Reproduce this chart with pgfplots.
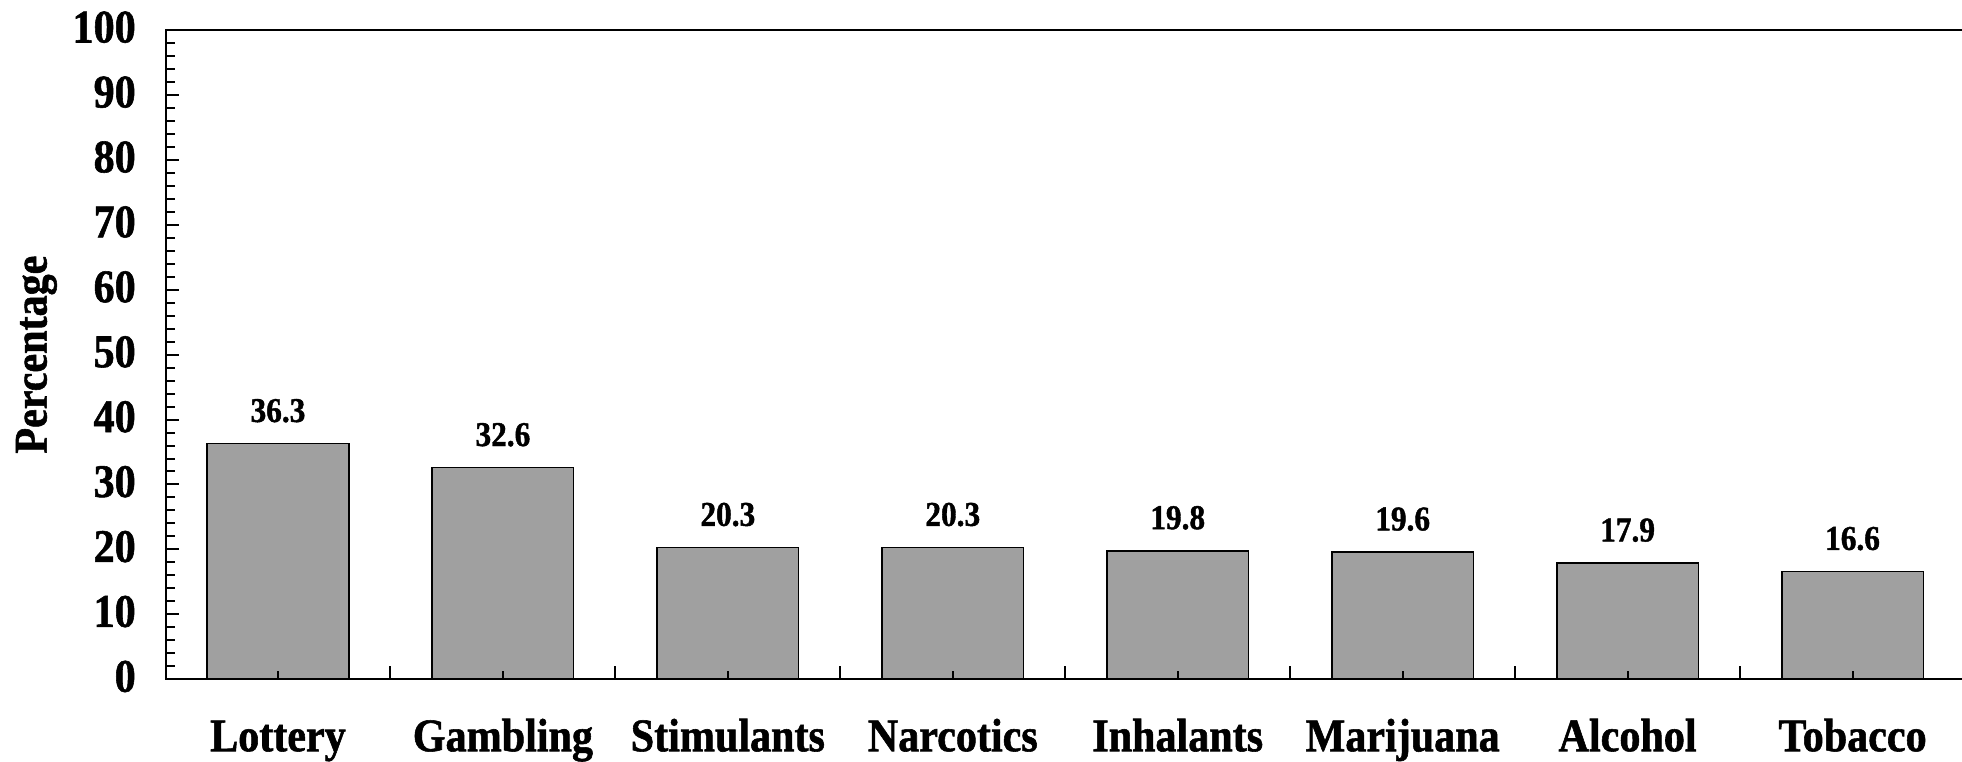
\documentclass[border=0pt]{standalone}
\usepackage{fontspec}
\setmainfont{Liberation Serif}[FakeStretch=0.9, BoldFeatures={FakeBold=1.2}]
\usepackage{pgfplots}
\pgfplotsset{compat=1.18}

\definecolor{barfill}{RGB}{160,160,160}

\begin{document}
\begin{tikzpicture}
\begin{axis}[
    scale only axis,
    width=450.1pt,
    height=162.4pt,
    xmin=0.5, xmax=8.5,
    ymin=0, ymax=100,
    ybar,
    bar width=35.4pt,
    axis on top,
    axis line style={line width=0.5pt},
    every tick/.style={black, line width=0.5pt},
    tick align=inside,
    xtick pos=left,
    ytick pos=left,
    major tick length=3.25pt,
    minor tick length=2.25pt,
    % boundaries between categories: longer ticks, no labels
    xtick={1.5,2.5,...,7.5},
    xticklabels={},
    % category centres: short ticks with the names
    extra x ticks={1,...,8},
    extra x tick labels={Lottery, Gambling, Stimulants, Narcotics, Inhalants, Marijuana, Alcohol, Tobacco},
    extra x tick style={major tick length=2pt},
    ytick={0,10,...,100},
    minor y tick num=4,
    yticklabel style={inner sep=0pt, anchor=east, xshift=-7.25pt, yshift=0.7pt},
    xticklabel style={inner sep=0pt, anchor=base, yshift=-18pt},
    ticklabel style={font=\fontsize{11.7}{12}\selectfont\bfseries},
    /pgf/number format/assume math mode=true,
    ylabel={Percentage},
    ylabel style={at={(axis description cs:-0.0661,0.5)}, anchor=base, inner sep=0pt,
                  font=\fontsize{11.7}{12}\selectfont\bfseries},
    nodes near coords,
    nodes near coords style={anchor=base, inner sep=0pt, yshift=5.4pt,
                  font=\fontsize{8.7}{9}\selectfont\bfseries},
]
\addplot[fill=barfill, draw=black, line width=0.4pt] coordinates {
    (1, 36.3)
    (2, 32.6)
    (3, 20.3)
    (4, 20.3)
    (5, 19.8)
    (6, 19.6)
    (7, 17.9)
    (8, 16.6)
};
\end{axis}
\pgfresetboundingbox
\path[use as bounding box] ([xshift=-41.4pt,yshift=-20.6pt]current axis.south west)
    rectangle ([xshift=-0.75pt,yshift=7.5pt]current axis.north east);
\end{tikzpicture}
\end{document}
